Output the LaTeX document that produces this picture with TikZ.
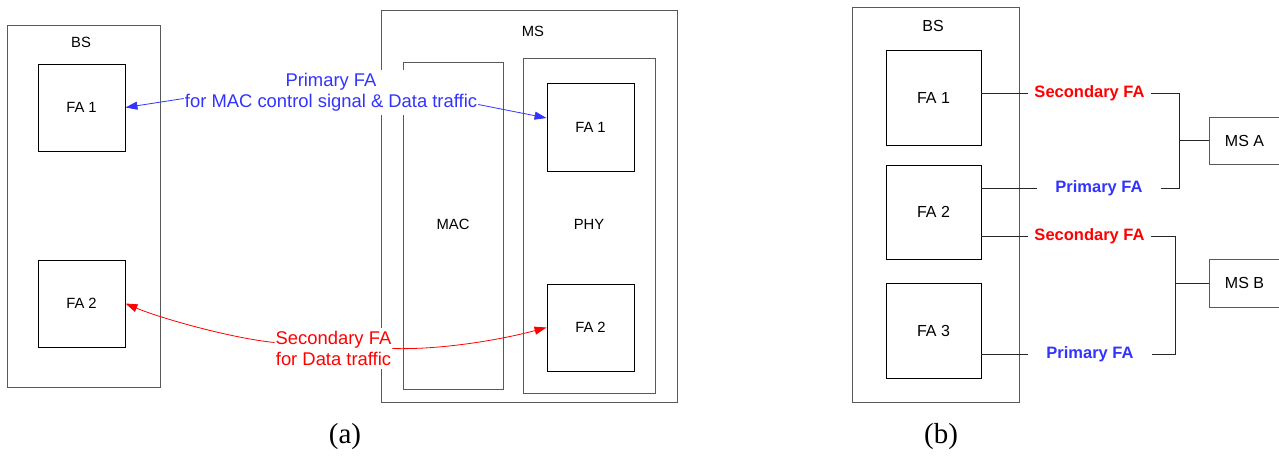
\documentclass[tikz,border=0pt]{standalone}
\usepackage{fontspec}
\setmainfont{Liberation Sans}
\newfontfamily\capfont{Liberation Serif}
\usetikzlibrary{arrows.meta,calc}
\definecolor{pblue}{RGB}{51,51,255}
\definecolor{sred}{RGB}{255,0,0}

\begin{document}
\begin{tikzpicture}[x=1pt,y=-1pt,
  frame/.style={draw=black!65, line width=0.9pt, inner sep=0pt},
  fabox/.style={draw=black, line width=0.9pt, inner sep=0pt, font=\fontsize{14.8}{16}\selectfont},
  faboxb/.style={fabox, font=\fontsize{16}{18}\selectfont},
  lbla/.style={inner sep=0pt, font=\fontsize{14.8}{16}\selectfont},
  lblb/.style={inner sep=0pt, font=\fontsize{16}{18}\selectfont},
  note/.style={align=center, fill=white, inner xsep=1pt, inner ysep=3pt, font=\fontsize{18.4}{21}\selectfont},
  tag/.style={inner ysep=2pt, font=\fontsize{16.5}{18}\selectfont\bfseries},
  bluearrow/.style={draw=pblue, line width=0.8pt, -{Triangle[length=12pt,width=8pt]}},
  redarrow/.style={draw=sred, line width=0.8pt, -{Triangle[length=12pt,width=8pt]}},
  wire/.style={draw=black!85, line width=0.9pt},
  caption/.style={inner sep=0pt, font=\capfont\fontsize{29}{31}\selectfont}
]
\useasboundingbox (0,0) rectangle (1279,456);

% ---------- (a) ----------
\node[frame, minimum width=153pt, minimum height=362pt] (bsa) at (83.5,206) {};
\node[lbla] (bsalbl) at (81,42) {BS};
\node[fabox, minimum width=87pt, minimum height=87pt] (bfa1) at (81.5,107.5) {FA 1};
\node[fabox, minimum width=87pt, minimum height=87pt] (bfa2) at (81.5,303.5) {FA 2};

\node[frame, minimum width=296pt, minimum height=392pt] (ms) at (529,206) {};
\node[lbla] (mslbl) at (533,31) {MS};
\node[frame, minimum width=100pt, minimum height=327pt] (mac) at (453,225.5) {};
\node[lbla] (maclbl) at (453,224) {MAC};
\node[frame, minimum width=132pt, minimum height=335pt] (phy) at (589,225.5) {};
\node[lbla] (phylbl) at (589,224) {PHY};
\node[fabox, minimum width=87pt, minimum height=88pt] (mfa1) at (590.5,127) {FA 1};
\node[fabox, minimum width=87pt, minimum height=87pt] (mfa2) at (590.5,327.5) {FA 2};

\node[note, text=pblue] (prim) at (331,92.5) {Primary FA\\for MAC control signal \& Data traffic};
\node[note, text=sred] (sec) at (333.5,348.5) {Secondary FA\\for Data traffic};

\draw[bluearrow] ($(prim.west)+(0,6)$) -- (bfa1.east);
\draw[bluearrow] ($(prim.east)+(0,12)$) -- ($(mfa1.west)+(0,-9)$);
\draw[redarrow] ($(sec.west)+(0,-6)$) .. controls (230,338) and (160,318) .. (bfa2.east);
\draw[redarrow] (sec.east) .. controls (440,350) and (500,340) .. (mfa2.west);

\node[caption] (capa) at (345,437) {(a)};

% ---------- (b) ----------
\node[frame, minimum width=167pt, minimum height=395pt] (bsb) at (935.5,204.5) {};
\node[lblb] (bsblbl) at (933,26) {BS};
\node[faboxb, minimum width=95pt, minimum height=95pt] (ffa1) at (933.5,97.5) {FA 1};
\node[faboxb, minimum width=95pt, minimum height=94pt] (ffa2) at (933.5,212) {FA 2};
\node[faboxb, minimum width=95pt, minimum height=95pt] (ffa3) at (933.5,330.5) {FA 3};

\node[frame, faboxb, draw=black!65, minimum width=71pt, minimum height=47pt] (msa) at (1244.5,140.5) {MS A};
\node[frame, faboxb, draw=black!65, minimum width=71pt, minimum height=48pt] (msb) at (1244.5,283) {MS B};

\node[tag, text=sred, inner xsep=6pt] (s1) at (1089.5,93) {Secondary FA};
\node[tag, text=pblue, inner xsep=18pt] (p1) at (1099,188) {Primary FA};
\node[tag, text=sred, inner xsep=6pt] (s2) at (1089.5,236) {Secondary FA};
\node[tag, text=pblue, inner xsep=18pt] (p2) at (1090,354) {Primary FA};

\draw[wire] (s1.west) -- (s1.west -| ffa1.east);
\draw[wire] (p1.west) -- (p1.west -| ffa2.east);
\draw[wire] (s2.west) -- (s2.west -| ffa2.east);
\draw[wire] (p2.west) -- (p2.west -| ffa3.east);

\coordinate (ja) at ($(msa.west)+(-29,0)$);
\coordinate (jb) at ($(msb.west)+(-33,0)$);
\draw[wire] (s1.east) -| (ja) |- (p1.east);
\draw[wire] (ja) -- (msa.west);
\draw[wire] (s2.east) -| (jb) |- (p2.east);
\draw[wire] (jb) -- (msb.west);

\node[caption] (capb) at (941,437) {(b)};
\end{tikzpicture}
\end{document}
